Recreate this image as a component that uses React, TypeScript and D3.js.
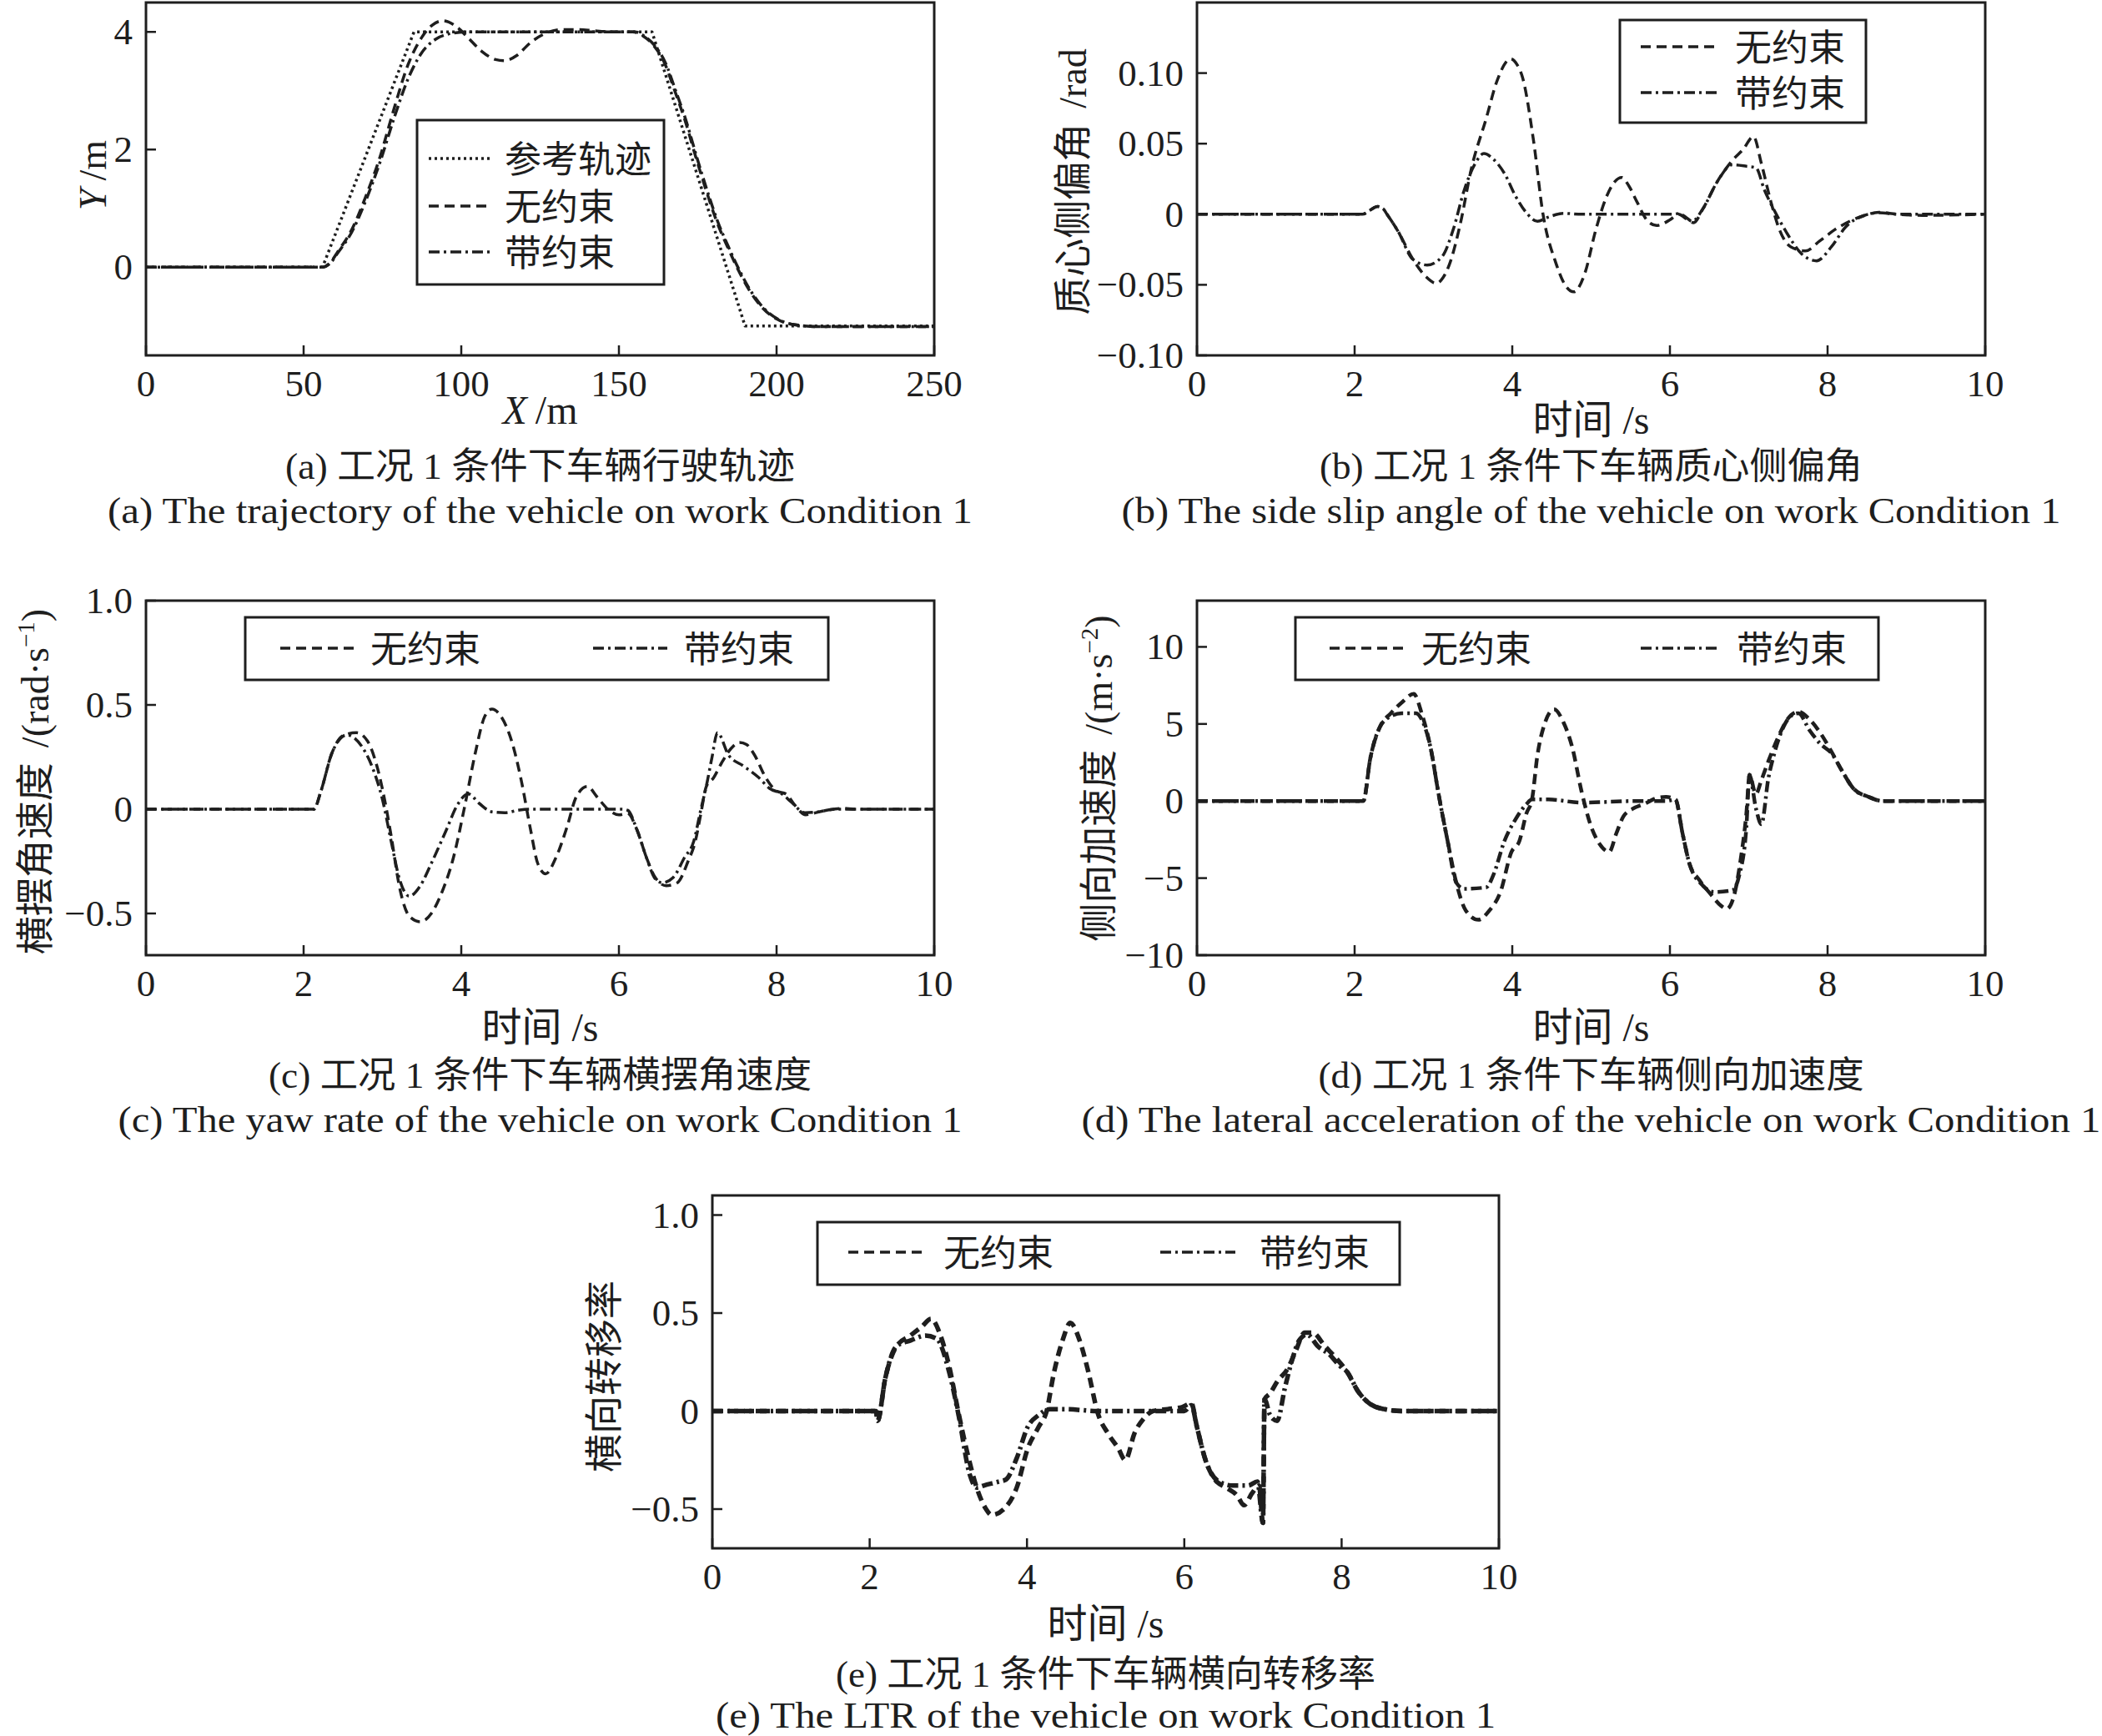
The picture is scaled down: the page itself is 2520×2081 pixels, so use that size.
import * as d3 from "d3";
import type { ReactNode } from "react";

type Pt = [number, number];

// (a) trajectory: X (m) -> Y (m)
const trackRef: Pt[] = [[0, 0], [56, 0], [85, 4], [160.5, 4], [190, -1], [250, -1]];
const trackFree: Pt[] = [
  [0, 0], [56, 0], [58.5, 0.08], [60.8, 0.26], [65.3, 0.64], [69.7, 1.2], [74.2, 1.87], [78.6, 2.68],
  [83.1, 3.44], [87.5, 3.91], [90.9, 4.12], [94.2, 4.19], [98.7, 4.08], [102, 3.91], [106.5, 3.67],
  [110.9, 3.53], [113.7, 3.51], [117.6, 3.6], [122, 3.82], [126.5, 3.97], [132, 4.04], [137.6, 4.04],
  [142, 4.02], [148.8, 4.0], [154.3, 4.0], [157.7, 3.93], [161, 3.77], [164.4, 3.48], [167.7, 3.0],
  [171, 2.49], [174.4, 1.87], [177.7, 1.3], [181, 0.78], [184.4, 0.35], [187.7, -0.03], [191, -0.36],
  [195.5, -0.69], [200, -0.88], [205.6, -0.98], [213, -1.01], [250, -1.01],
];
const trackCon: Pt[] = [
  [0, 0], [56, 0], [58.5, 0.07], [60.8, 0.24], [65.3, 0.6], [69.7, 1.13], [74.2, 1.78], [78.6, 2.52],
  [83.1, 3.2], [87.5, 3.65], [92, 3.88], [96.4, 3.97], [102, 4.0], [155, 4.0], [158, 3.93], [161.3, 3.77],
  [164.7, 3.48], [168, 3.0], [171.3, 2.49], [174.7, 1.87], [178, 1.3], [181.3, 0.78], [184.7, 0.35],
  [188, -0.03], [191.3, -0.36], [195.8, -0.69], [200.3, -0.88], [206, -0.98], [213, -1.01], [250, -1.01],
];

// (b) side slip angle: t (s) -> rad
const slipFree: Pt[] = [
  [0, 0], [2.1, 0], [2.2, 0.003], [2.29, 0.0055], [2.36, 0.004], [2.41, 0], [2.55, -0.012], [2.74, -0.032],
  [2.9, -0.044], [3.04, -0.049], [3.12, -0.045], [3.2, -0.036], [3.34, -0.007], [3.48, 0.032], [3.67, 0.068],
  [3.81, 0.095], [3.98, 0.11], [4.06, 0.106], [4.13, 0.097], [4.27, 0.052], [4.39, 0], [4.55, -0.034],
  [4.68, -0.051], [4.78, -0.055], [4.92, -0.042], [5.06, -0.011], [5.2, 0.013], [5.3, 0.023], [5.39, 0.026],
  [5.48, 0.02], [5.58, 0.009], [5.72, -0.005], [5.83, -0.008], [6.0, -0.004], [6.11, 0], [6.2, -0.003],
  [6.3, -0.006], [6.42, 0.004], [6.6, 0.023], [6.79, 0.038], [6.93, 0.046], [7.06, 0.055], [7.16, 0.036],
  [7.28, 0.009], [7.39, -0.011], [7.53, -0.023], [7.72, -0.026], [7.9, -0.019], [8.09, -0.011], [8.28, -0.005],
  [8.46, -0.001], [8.65, 0.0014], [8.88, 0], [9.2, -0.0008], [10, 0],
];
const slipCon: Pt[] = [
  [0, 0], [2.1, 0], [2.2, 0.003], [2.29, 0.0055], [2.36, 0.004], [2.41, 0], [2.55, -0.012], [2.74, -0.032],
  [2.92, -0.036], [3.11, -0.03], [3.25, -0.011], [3.39, 0.017], [3.53, 0.036], [3.64, 0.043], [3.76, 0.039],
  [3.9, 0.029], [4.04, 0.013], [4.18, 0.001], [4.32, -0.005], [4.46, -0.002], [4.65, 0.0006], [4.88, 0],
  [6.04, 0], [6.11, 0.0005], [6.2, -0.002], [6.28, -0.005], [6.42, 0.004], [6.6, 0.023], [6.79, 0.035],
  [6.97, 0.034], [7.09, 0.033], [7.2, 0.017], [7.34, 0.001], [7.48, -0.013], [7.67, -0.028], [7.86, -0.033],
  [8.05, -0.023], [8.23, -0.009], [8.46, -0.001], [8.65, 0.001], [8.9, 0], [10, 0],
];

// (c) yaw rate: t (s) -> rad/s
const yawFree: Pt[] = [
  [0, 0], [2.13, 0], [2.22, 0.087], [2.36, 0.27], [2.5, 0.353], [2.67, 0.367], [2.81, 0.327], [2.92, 0.22],
  [3.02, 0.06], [3.11, -0.127], [3.22, -0.38], [3.34, -0.513], [3.48, -0.54], [3.62, -0.5], [3.76, -0.393],
  [3.9, -0.233], [4.04, 0.007], [4.18, 0.273], [4.3, 0.447], [4.39, 0.48], [4.5, 0.447], [4.65, 0.313],
  [4.76, 0.14], [4.88, -0.1], [4.97, -0.26], [5.07, -0.31], [5.2, -0.233], [5.34, -0.087], [5.46, 0.06],
  [5.6, 0.109], [5.72, 0.06], [5.86, 0], [6.0, -0.027], [6.11, -0.02], [6.23, -0.1], [6.35, -0.233],
  [6.46, -0.327], [6.6, -0.367], [6.74, -0.353], [6.88, -0.247], [6.97, -0.153], [7.04, -0.02], [7.11, 0.11],
  [7.2, 0.15], [7.3, 0.22], [7.42, 0.29], [7.53, 0.32], [7.62, 0.31], [7.72, 0.26], [7.86, 0.153], [8.0, 0.087],
  [8.12, 0.073], [8.23, 0.02], [8.37, -0.027], [8.46, -0.02], [8.65, -0.004], [8.84, 0.004], [9.0, 0], [10, 0],
];
const yawCon: Pt[] = [
  [0, 0], [2.13, 0], [2.22, 0.087], [2.36, 0.27], [2.55, 0.356], [2.74, 0.3], [2.88, 0.193], [3.0, 0.047],
  [3.11, -0.153], [3.22, -0.34], [3.34, -0.417], [3.48, -0.367], [3.62, -0.26], [3.81, -0.1], [3.95, 0.02],
  [4.09, 0.073], [4.23, 0.027], [4.39, -0.013], [4.55, -0.017], [4.74, -0.004], [4.9, 0], [6.04, 0],
  [6.11, -0.005], [6.23, -0.1], [6.35, -0.233], [6.46, -0.333], [6.55, -0.353], [6.69, -0.327], [6.83, -0.233],
  [6.95, -0.153], [7.04, 0], [7.11, 0.113], [7.18, 0.247], [7.25, 0.367], [7.39, 0.26], [7.58, 0.207],
  [7.77, 0.153], [7.91, 0.1], [8.07, 0.073], [8.19, 0.033], [8.36, -0.017], [8.52, -0.013], [8.74, 0], [10, 0],
];

// (d) lateral acceleration: t (s) -> m/s^2
const accFree: Pt[] = [
  [0, 0], [2.11, 0], [2.2, 2.8], [2.32, 4.8], [2.46, 5.7], [2.6, 6.4], [2.75, 6.95], [2.85, 5.7], [2.97, 3.3],
  [3.06, 0.6], [3.18, -2.6], [3.29, -5.3], [3.41, -7.1], [3.57, -7.7], [3.71, -7.1], [3.85, -5.9], [3.99, -3.3],
  [4.09, -2.6], [4.18, -0.8], [4.25, 0.1], [4.32, 3.0], [4.41, 5.0], [4.53, 5.95], [4.65, 5.1], [4.76, 3.5],
  [4.88, 0.6], [4.99, -1.5], [5.11, -2.8], [5.23, -3.3], [5.32, -2.1], [5.41, -1.0], [5.53, -0.5], [5.67, -0.2],
  [5.86, 0.23], [5.95, 0.27], [6.07, 0.1], [6.16, -2.1], [6.25, -4.1], [6.37, -5.1], [6.51, -6.0], [6.65, -6.8],
  [6.72, -7.0], [6.81, -6.2], [6.9, -3.7], [6.97, -0.8], [7.01, 1.7], [7.09, 0.45], [7.16, 1.35], [7.25, 2.6],
  [7.37, 4.1], [7.49, 5.3], [7.63, 5.8], [7.77, 5.3], [7.91, 4.4], [8.05, 3.2], [8.19, 1.9], [8.33, 0.8],
  [8.52, 0.27], [8.7, 0], [10, 0],
];
const accCon: Pt[] = [
  [0, 0], [2.11, 0], [2.2, 2.8], [2.32, 4.8], [2.46, 5.5], [2.6, 5.7], [2.78, 5.7], [2.85, 5.3], [2.97, 3.3],
  [3.06, 0.6], [3.18, -2.6], [3.29, -5.3], [3.39, -5.7], [3.67, -5.6], [3.76, -4.8], [3.9, -2.6], [4.04, -1.2],
  [4.18, -0.2], [4.25, 0.1], [4.46, 0.1], [4.88, -0.1], [5.58, 0], [5.95, 0], [6.07, 0.1], [6.16, -2.1],
  [6.25, -4.1], [6.42, -5.5], [6.56, -5.9], [6.79, -5.8], [6.88, -4.8], [6.97, -1.7], [7.01, 1.7], [7.09, -0.45],
  [7.16, -1.5], [7.25, 1.5], [7.32, 3.0], [7.44, 4.8], [7.53, 5.5], [7.63, 5.7], [7.77, 4.6], [7.91, 3.7],
  [8.05, 3.1], [8.19, 1.9], [8.33, 0.8], [8.52, 0.27], [8.7, 0], [10, 0],
];

// (e) load transfer ratio: t (s) -> LTR
const ltrFree: Pt[] = [
  [0, 0], [2.08, 0], [2.1, -0.05], [2.2, 0.17], [2.34, 0.33], [2.52, 0.386], [2.66, 0.43], [2.78, 0.47],
  [2.9, 0.386], [3.01, 0.23], [3.13, -0.01], [3.24, -0.21], [3.36, -0.39], [3.48, -0.5], [3.55, -0.53],
  [3.73, -0.49], [3.87, -0.39], [4.01, -0.19], [4.15, -0.08], [4.25, 0], [4.34, 0.19], [4.46, 0.37], [4.55, 0.45],
  [4.67, 0.36], [4.78, 0.2], [4.9, -0.01], [5.04, -0.12], [5.16, -0.19], [5.25, -0.25], [5.37, -0.11],
  [5.48, -0.04], [5.6, 0], [5.79, 0.01], [5.97, 0.02], [6.09, 0.04], [6.16, -0.08], [6.27, -0.25], [6.39, -0.35],
  [6.53, -0.39], [6.67, -0.43], [6.76, -0.48], [6.86, -0.42], [6.95, -0.38], [7.0, -0.57], [7.02, 0.06],
  [7.09, 0.09], [7.18, 0.15], [7.32, 0.22], [7.42, 0.31], [7.53, 0.4], [7.63, 0.4], [7.79, 0.33], [7.93, 0.27],
  [8.07, 0.2], [8.21, 0.1], [8.35, 0.04], [8.54, 0.01], [8.77, 0], [10, 0],
];
const ltrCon: Pt[] = [
  [0, 0], [2.08, 0], [2.1, -0.05], [2.2, 0.17], [2.34, 0.33], [2.52, 0.36], [2.71, 0.385], [2.85, 0.37],
  [3.01, 0.2], [3.13, -0.02], [3.27, -0.32], [3.36, -0.39], [3.45, -0.38], [3.64, -0.36], [3.73, -0.35],
  [3.87, -0.24], [4.01, -0.08], [4.15, -0.02], [4.29, 0.01], [4.48, 0.01], [4.9, 0], [6.0, 0], [6.09, 0.03],
  [6.16, -0.08], [6.27, -0.25], [6.44, -0.36], [6.62, -0.38], [6.81, -0.38], [6.93, -0.36], [7.0, -0.57],
  [7.02, 0.06], [7.09, -0.02], [7.18, -0.05], [7.28, 0.12], [7.37, 0.26], [7.46, 0.36], [7.56, 0.39], [7.7, 0.33],
  [7.84, 0.29], [7.98, 0.23], [8.07, 0.2], [8.21, 0.1], [8.35, 0.04], [8.54, 0.01], [8.77, 0], [10, 0],
];

const trackXTicks = [0, 50, 100, 150, 200, 250];
const trackYTicks = [0, 2, 4];
const timeTicks = [0, 2, 4, 6, 8, 10];
const slipTicks = [-0.1, -0.05, 0, 0.05, 0.1];
const yawTicks = [-0.5, 0, 0.5, 1.0];
const accTicks = [-10, -5, 0, 5, 10];
const ltrTicks = [-0.5, 0, 0.5, 1.0];

const LBL_REF = "参考轨迹";
const LBL_FREE = "无约束";
const LBL_CON = "带约束";

const FONT = "'Liberation Serif', 'Times New Roman', 'Noto Sans CJK SC', serif";
const INK = "#1e1e1e";
const DASH = "12 7";
const DASHDOT = "13 5 3 5";
const DOT = "3 4";

const signed = (digits: number) => (v: number) =>
  v === 0 ? "0" : (v < 0 ? "\u2212" : "") + Math.abs(v).toFixed(digits);

interface Series {
  data: Pt[];
  dash: string;
  width: number;
  linear?: boolean;
}

interface LegendItem {
  label: string;
  dash: string;
  x1: number;
  x2: number;
  y: number;
  tx: number;
}

interface PanelProps {
  id: string;
  x0: number;
  y0: number;
  w: number;
  h: number;
  xDomain: [number, number];
  xTicks: number[];
  yDomain: [number, number];
  yTicks: number[];
  yFmt: (v: number) => string;
  series: Series[];
  legendBox: [number, number, number, number];
  legend: LegendItem[];
  xTitle: ReactNode;
  xTitleDy: number;
  yTitle: ReactNode;
  yTitleX: number;
  yTitleY: number;
  cap1: string;
  cap2: string;
  cap1Len: number;
  cap2Len: number;
  cap1Dy: number;
  cap2Dy: number;
}

function Panel(p: PanelProps) {
  const x = d3.scaleLinear().domain(p.xDomain).range([p.x0, p.x0 + p.w]);
  const y = d3.scaleLinear().domain(p.yDomain).range([p.y0 + p.h, p.y0]);
  const bottom = p.y0 + p.h;
  const cx = p.x0 + p.w / 2;
  const TICK = 12;

  return (
    <g fontFamily={FONT} fill={INK}>
      <defs>
        <clipPath id={`clip-${p.id}`}>
          <rect x={p.x0} y={p.y0} width={p.w} height={p.h} />
        </clipPath>
      </defs>

      <g clipPath={`url(#clip-${p.id})`} fill="none">
        {p.series.map((s, i) => {
          const line = d3
            .line<Pt>()
            .x((d) => x(d[0]))
            .y((d) => y(d[1]))
            .curve(s.linear ? d3.curveLinear : d3.curveMonotoneX);
          return (
            <path
              key={i}
              d={line(s.data) ?? ""}
              stroke={INK}
              strokeWidth={s.width}
              strokeDasharray={s.dash}
              strokeLinejoin="round"
            />
          );
        })}
      </g>

      {p.xTicks.map((t) => (
        <g key={`xt${t}`}>
          <line x1={x(t)} x2={x(t)} y1={bottom} y2={bottom - TICK} stroke={INK} strokeWidth={2.5} />
          <text x={x(t)} y={bottom + 49} textAnchor="middle" fontSize={45}>
            {String(t)}
          </text>
        </g>
      ))}
      {p.yTicks.map((t) => (
        <g key={`yt${t}`}>
          <line x1={p.x0} x2={p.x0 + TICK} y1={y(t)} y2={y(t)} stroke={INK} strokeWidth={2.5} />
          <text x={p.x0 - 16} y={y(t)} textAnchor="end" dominantBaseline="central" fontSize={45}>
            {p.yFmt(t)}
          </text>
        </g>
      ))}

      <rect x={p.x0} y={p.y0} width={p.w} height={p.h} fill="none" stroke={INK} strokeWidth={3} />

      <rect
        x={p.legendBox[0]}
        y={p.legendBox[1]}
        width={p.legendBox[2]}
        height={p.legendBox[3]}
        fill="#fff"
        stroke={INK}
        strokeWidth={3}
      />
      {p.legend.map((it) => (
        <g key={it.label}>
          <line x1={it.x1} x2={it.x2} y1={it.y} y2={it.y} stroke={INK} strokeWidth={3.5} strokeDasharray={it.dash} />
          <text x={it.tx} y={it.y + 2} dominantBaseline="central" fontSize={44}>
            {it.label}
          </text>
        </g>
      ))}

      <text x={cx} y={bottom + p.xTitleDy} textAnchor="middle" fontSize={48}>
        {p.xTitle}
      </text>
      <text
        transform={`translate(${p.yTitleX},${p.yTitleY}) rotate(-90)`}
        textAnchor="middle"
        fontSize={46}
      >
        {p.yTitle}
      </text>

      <text
        x={cx}
        y={bottom + p.cap1Dy}
        textAnchor="middle"
        fontSize={44}
        textLength={p.cap1Len}
        lengthAdjust="spacingAndGlyphs"
      >
        {p.cap1}
      </text>
      <text
        x={cx}
        y={bottom + p.cap2Dy}
        textAnchor="middle"
        fontSize={44}
        textLength={p.cap2Len}
        lengthAdjust="spacingAndGlyphs"
      >
        {p.cap2}
      </text>
    </g>
  );
}

const timeTitle = (
  <>
    时间<tspan dx={12}>/s</tspan>
  </>
);

export default function App() {
  return (
    <svg
      width={2520}
      height={2081}
      viewBox="0 0 2520 2081"
      style={{ position: "absolute", left: 0, top: 0, background: "#fff" }}
    >
      <rect width={2520} height={2081} fill="#fff" />

      <Panel
        id="a"
        x0={175}
        y0={3}
        w={945}
        h={423}
        xDomain={[0, 250]}
        xTicks={trackXTicks}
        yDomain={[-1.5, 4.5]}
        yTicks={trackYTicks}
        yFmt={(v) => String(v)}
        series={[
          { data: trackRef, dash: DOT, width: 3.5, linear: true },
          { data: trackCon, dash: DASHDOT, width: 3.5 },
          { data: trackFree, dash: DASH, width: 3.5 },
        ]}
        legendBox={[500, 144, 296, 197]}
        legend={[
          { label: LBL_REF, dash: DOT, x1: 514, x2: 590, y: 190, tx: 605 },
          { label: LBL_FREE, dash: DASH, x1: 514, x2: 590, y: 247, tx: 605 },
          { label: LBL_CON, dash: DASHDOT, x1: 514, x2: 590, y: 302, tx: 605 },
        ]}
        xTitle={
          <>
            <tspan fontStyle="italic">X</tspan>
            <tspan dx={10}>/m</tspan>
          </>
        }
        xTitleDy={82}
        yTitle={
          <>
            <tspan fontStyle="italic">Y</tspan>
            <tspan dx={10}>/m</tspan>
          </>
        }
        yTitleX={127}
        yTitleY={210}
        cap1="(a) 工况 1 条件下车辆行驶轨迹"
        cap2="(a) The trajectory of the vehicle on work Condition 1"
        cap1Len={611}
        cap2Len={1037}
        cap1Dy={148}
        cap2Dy={201}
      />

      <Panel
        id="b"
        x0={1435}
        y0={3}
        w={945}
        h={423}
        xDomain={[0, 10]}
        xTicks={timeTicks}
        yDomain={[-0.1, 0.15]}
        yTicks={slipTicks}
        yFmt={signed(2)}
        series={[
          { data: slipCon, dash: DASHDOT, width: 3.5 },
          { data: slipFree, dash: DASH, width: 3.5 },
        ]}
        legendBox={[1942, 24, 295, 123]}
        legend={[
          { label: LBL_FREE, dash: DASH, x1: 1967, x2: 2060, y: 56, tx: 2080 },
          { label: LBL_CON, dash: DASHDOT, x1: 1967, x2: 2060, y: 111, tx: 2080 },
        ]}
        xTitle={timeTitle}
        xTitleDy={94}
        yTitle={
          <>
            质心侧偏角<tspan dx={18}>/rad</tspan>
          </>
        }
        yTitleX={1302}
        yTitleY={218}
        cap1="(b) 工况 1 条件下车辆质心侧偏角"
        cap2="(b) The side slip angle of the vehicle on work Condition 1"
        cap1Len={651}
        cap2Len={1126}
        cap1Dy={148}
        cap2Dy={201}
      />

      <Panel
        id="c"
        x0={175}
        y0={720}
        w={945}
        h={425}
        xDomain={[0, 10]}
        xTicks={timeTicks}
        yDomain={[-0.7, 1.0]}
        yTicks={yawTicks}
        yFmt={signed(1)}
        series={[
          { data: yawCon, dash: DASHDOT, width: 3.5 },
          { data: yawFree, dash: DASH, width: 3.5 },
        ]}
        legendBox={[294, 740, 699, 75]}
        legend={[
          { label: LBL_FREE, dash: DASH, x1: 336, x2: 424, y: 777, tx: 444 },
          { label: LBL_CON, dash: DASHDOT, x1: 711, x2: 800, y: 777, tx: 820 },
        ]}
        xTitle={timeTitle}
        xTitleDy={103}
        yTitle={
          <>
            横摆角速度<tspan dx={18}>/(rad·s</tspan>
            <tspan dy={-17} fontSize={29}>−1</tspan>
            <tspan dy={17}>)</tspan>
          </>
        }
        yTitleX={58}
        yTitleY={937}
        cap1="(c) 工况 1 条件下车辆横摆角速度"
        cap2="(c) The yaw rate of the vehicle on work Condition 1"
        cap1Len={651}
        cap2Len={1012}
        cap1Dy={159}
        cap2Dy={212}
      />

      <Panel
        id="d"
        x0={1435}
        y0={720}
        w={945}
        h={425}
        xDomain={[0, 10]}
        xTicks={timeTicks}
        yDomain={[-10, 13]}
        yTicks={accTicks}
        yFmt={signed(0)}
        series={[
          { data: accCon, dash: DASHDOT, width: 4.5 },
          { data: accFree, dash: DASH, width: 4.5 },
        ]}
        legendBox={[1553, 740, 699, 75]}
        legend={[
          { label: LBL_FREE, dash: DASH, x1: 1594, x2: 1684, y: 777, tx: 1704 },
          { label: LBL_CON, dash: DASHDOT, x1: 1967, x2: 2059, y: 777, tx: 2082 },
        ]}
        xTitle={timeTitle}
        xTitleDy={103}
        yTitle={
          <>
            侧向加速度<tspan dx={18}>/(m·s</tspan>
            <tspan dy={-17} fontSize={29}>−2</tspan>
            <tspan dy={17}>)</tspan>
          </>
        }
        yTitleX={1333}
        yTitleY={933}
        cap1="(d) 工况 1 条件下车辆侧向加速度"
        cap2="(d) The lateral acceleration of the vehicle on work Condition 1"
        cap1Len={654}
        cap2Len={1222}
        cap1Dy={159}
        cap2Dy={212}
      />

      <Panel
        id="e"
        x0={854}
        y0={1433}
        w={943}
        h={423}
        xDomain={[0, 10]}
        xTicks={timeTicks}
        yDomain={[-0.7, 1.1]}
        yTicks={ltrTicks}
        yFmt={signed(1)}
        series={[
          { data: ltrCon, dash: DASHDOT, width: 5.5 },
          { data: ltrFree, dash: DASH, width: 5.5 },
        ]}
        legendBox={[980, 1465, 698, 75]}
        legend={[
          { label: LBL_FREE, dash: DASH, x1: 1017, x2: 1105, y: 1501, tx: 1131 },
          { label: LBL_CON, dash: DASHDOT, x1: 1391, x2: 1481, y: 1501, tx: 1510 },
        ]}
        xTitle={timeTitle}
        xTitleDy={107}
        yTitle={<>横向转移率</>}
        yTitleX={740}
        yTitleY={1650}
        cap1="(e) 工况 1 条件下车辆横向转移率"
        cap2="(e) The LTR of the vehicle on work Condition 1"
        cap1Len={647}
        cap2Len={935}
        cap1Dy={166}
        cap2Dy={215}
      />
    </svg>
  );
}
